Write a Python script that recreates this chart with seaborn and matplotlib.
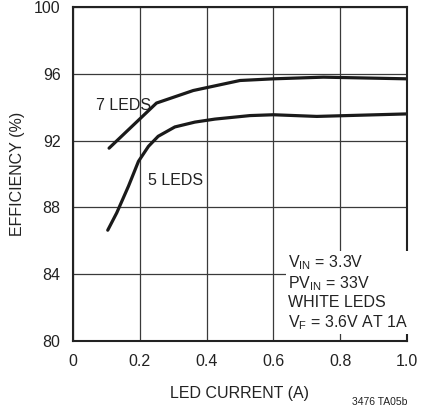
import numpy as np
import pandas as pd
import matplotlib
matplotlib.use("Agg")
import matplotlib.pyplot as plt
import seaborn as sns

# values
current_7 = [0.108, 0.25, 0.36, 0.50, 0.60, 0.75, 1.00]
eff_7 = [91.55, 94.25, 95.0, 95.6, 95.7, 95.8, 95.7]

current_5 = [0.104, 0.131, 0.166, 0.196, 0.226, 0.255, 0.305, 0.365, 0.425,
             0.53, 0.60, 0.73, 1.00]
eff_5 = [86.64, 87.68, 89.27, 90.76, 91.66, 92.26, 92.82, 93.11, 93.29,
         93.5, 93.55, 93.45, 93.6]

x_ticks = [0, 0.2, 0.4, 0.6, 0.8, 1.0]
x_tick_labels = ["0", "0.2", "0.4", "0.6", "0.8", "1.0"]
y_ticks = [80, 84, 88, 92, 96, 100]

df = pd.concat([
    pd.DataFrame({"current": current_7, "eff": eff_7, "leds": "7 LEDS"}),
    pd.DataFrame({"current": current_5, "eff": eff_5, "leds": "5 LEDS"}),
])

sns.set_style("white")
plt.rcParams["font.family"] = ["Liberation Sans Narrow", "Liberation Sans", "DejaVu Sans"]
plt.rcParams["mathtext.fontset"] = "custom"
plt.rcParams["mathtext.rm"] = "Liberation Sans"
plt.rcParams["mathtext.it"] = "Liberation Sans"

fig = plt.figure(figsize=(4.32, 4.11), dpi=100)
ax = fig.add_axes([0.169, 0.170, 0.773, 0.813])

sns.lineplot(data=df, x="current", y="eff", units="leds", estimator=None,
             color="#1a1a1a", lw=2.3, ax=ax, legend=False, sort=False)

ax.set_xlim(0, 1.0)
ax.set_ylim(80, 100)
ax.set_xticks(x_ticks)
ax.set_xticklabels(x_tick_labels)
ax.set_yticks(y_ticks)
ax.grid(True, color="#3a3a3a", lw=0.9)
ax.set_axisbelow(True)
for s in ax.spines.values():
    s.set_color("#222222")
    s.set_linewidth(1.5)
ax.tick_params(length=0, labelsize=11.5, colors="#222222", pad=9)

ax.set_xlabel("LED CURRENT (A)", fontsize=11.5, color="#222222")
ax.set_ylabel("EFFICIENCY (%)", fontsize=11.5, color="#222222")
ax.xaxis.set_label_coords(0.5, -0.135)
ax.yaxis.set_label_coords(-0.145, 0.5)

ax.text(0.07, 94.1, "7 LEDS", fontsize=11.5, color="#222222", va="center")
ax.text(0.225, 89.6, "5 LEDS", fontsize=11.5, color="#222222", va="center")

note = ("V$_{\\mathrm{IN}}$ = 3.3V\nPV$_{\\mathrm{IN}}$ = 33V\n"
        "WHITE LEDS\nV$_{\\mathrm{F}}$ = 3.6V AT 1A")
ax.text(0.645, 80.55, note, fontsize=11.5, color="#222222", va="bottom",
        ha="left", linespacing=1.2,
        bbox=dict(facecolor="white", edgecolor="none", pad=1.5))

fig.text(0.942, 0.022, "3476 TA05b", fontsize=7.5, ha="right", va="center",
         color="#222222")

fig.savefig("out.png", dpi=100)
